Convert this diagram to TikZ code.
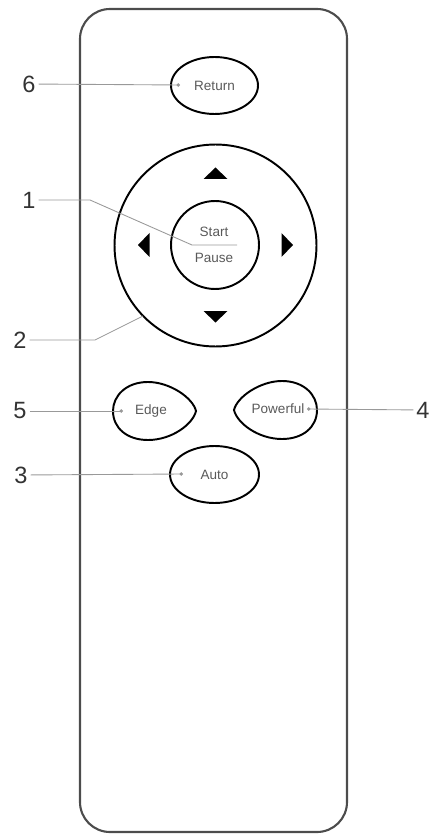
\documentclass[tikz,border=0pt]{standalone}
\usepackage{fontspec}
\setmainfont{Liberation Sans}
\usetikzlibrary{shapes.geometric,arrows.meta}

\begin{document}
\begin{tikzpicture}
  [x=0.02cm,y=-0.02cm,
   every node/.style={inner sep=1.5pt},
   num/.style={text=black!80,font=\fontsize{13.4}{14}\selectfont},
   btn/.style={draw,ellipse,line width=1.1pt,text=black!65,font=\fontsize{7.7}{8}\selectfont},
   lbl/.style={text=black!65,font=\fontsize{7.7}{8}\selectfont},
   blob/.style={draw,line width=1.1pt},
   leader/.style={draw=black!40,line width=0.5pt},
   tipped/.style={leader,-{Circle[length=2pt]}}]
  \useasboundingbox (0,0) rectangle (433,834);

  % the remote
  \draw[line width=1.2pt,draw=black!70,rounded corners=0.6cm] (80,9) rectangle (347,832);

  % buttons
  \node[btn,minimum width=1.74cm,minimum height=1.14cm] (ret) at (214.5,85.5) {Return};
  \node[draw,circle,line width=1.1pt,minimum size=4.04cm] (pad) at (215.5,245.5) {};
  \node[draw,circle,line width=1.1pt,minimum size=1.76cm] (ok) at (215,245) {};
  \node[lbl] (start) at (214,232) {Start};
  \node[lbl] (pause) at (214,257.5) {Pause};
  \foreach \a in {0,90,180,270}
    \fill[rotate around={\a:(215.5,245)}] (203.5,179) -- (227.5,179) -- (215.5,167.5) -- cycle;

  \draw[blob] (196,411) .. controls (193,398) and (170,382) .. (148,382)
    .. controls (126,382) and (113,396) .. (113,411)
    .. controls (113,428) and (127,440) .. (148,440)
    .. controls (172,440) and (193,424) .. (196,411) -- cycle;
  \begin{scope}[shift={(430,-1)},xscale=-1]
    \draw[blob] (196,411) .. controls (193,398) and (170,382) .. (148,382)
      .. controls (126,382) and (113,396) .. (113,411)
      .. controls (113,428) and (127,440) .. (148,440)
      .. controls (172,440) and (193,424) .. (196,411) -- cycle;
  \end{scope}
  \node[lbl] (edge) at (151,411) {Edge};
  \node[lbl] (pow) at (278,409) {Powerful};
  \node[btn,minimum width=1.78cm,minimum height=1.14cm] (auto) at (214.5,474.5) {Auto};

  % numbers
  \node[num] (n6) at (29,84) {6};
  \node[num] (n1) at (29,200) {1};
  \node[num] (n2) at (20,340) {2};
  \node[num] (n5) at (20,411) {5};
  \node[num] (n3) at (21,475) {3};
  \node[num] (n4) at (423,410) {4};

  \coordinate (e6) at (180,85);
  \coordinate (e5) at (123,411);
  \coordinate (e4) at (307,409);
  \coordinate (e3) at (183,474);
  \coordinate (b1) at (90,200);
  \coordinate (f1) at (192,245);
  \coordinate (f2) at (237,245);
  \coordinate (b2) at (95,340);
  \coordinate (e2) at (143,316);

  \foreach \from/\to in {n6/e6,n5/e5,n4/e4,n3/e3}
    \draw[tipped] (\from) -- (\to);
  \draw[leader] (n1) -- (b1) -- (f1) -- (f2);
  \draw[leader] (n2) -- (b2) -- (e2);
\end{tikzpicture}
\end{document}
